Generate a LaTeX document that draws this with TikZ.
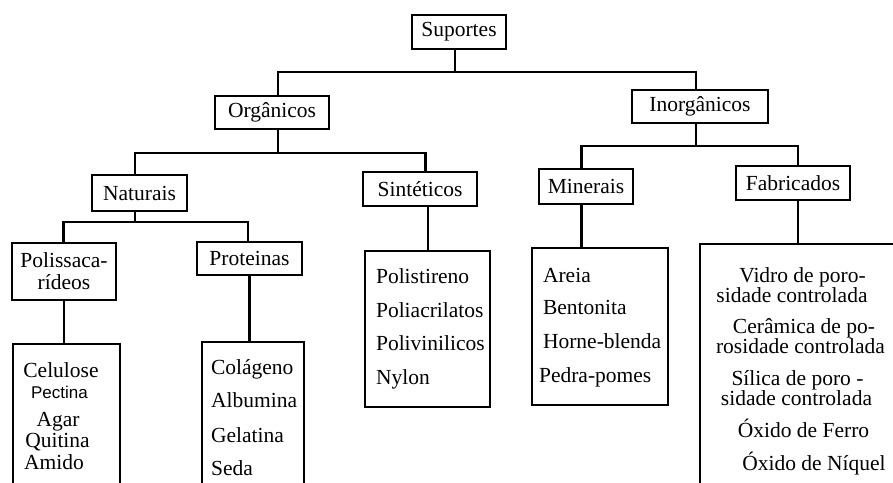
\documentclass[tikz,border=0pt]{standalone}
\usepackage{fontspec}
\setmainfont{Liberation Serif}
\newfontfamily\sansf{Liberation Sans}
\begin{document}
\begin{tikzpicture}[x=1pt,y=-1pt,line width=2.1pt,
  box/.style={draw,inner sep=0pt,align=center,font=\fontsize{21.5}{22}\selectfont},
  bigbox/.style={draw,inner sep=0pt,anchor=north west},
  txt/.style={inner sep=0pt,anchor=base,font=\fontsize{21.5}{22}\selectfont},
  txtl/.style={txt,anchor=base west}]
\useasboundingbox (0,0) rectangle (893,482);
\fill[white] (0,0) rectangle (893,482);
\clip (0,0) rectangle (893,482);
% labelled boxes
\node[box,minimum width=94,minimum height=34] (sup) at (459,32) {Suportes};
\node[box,minimum width=114,minimum height=33] (org) at (272,112.5) {Orgânicos};
\node[box,minimum width=136,minimum height=33] (inorg) at (700,106.5) {Inorgânicos};
\node[box,minimum width=95,minimum height=36] (nat) at (139.5,193) {Naturais};
\node[box,minimum width=114,minimum height=34] (sint) at (420,189) {Sintéticos};
\node[box,minimum width=94,minimum height=35] (min) at (586,186.5) {Minerais};
\node[box,minimum width=114,minimum height=34] (fab) at (793,183) {Fabricados};
\node[box,minimum width=104,minimum height=57] (pol) at (64,271.5) {Polissaca-\\rídeos};
\node[box,minimum width=105,minimum height=33] (prot) at (249.5,258.5) {Proteinas};
% list boxes
\node[bigbox,minimum width=107,minimum height=200] (polbox) at (12,343) {};
\node[bigbox,minimum width=102,minimum height=200] (protbox) at (201,341) {};
\node[bigbox,minimum width=125,minimum height=156] (sintbox) at (364,250) {};
\node[bigbox,minimum width=136,minimum height=157] (minbox) at (531,247) {};
\node[bigbox,minimum width=250,minimum height=300] (fabbox) at (699,243) {};
% connectors
\draw ([xshift=-4pt]sup.south) -- ++(0,22) coordinate (b1);
\draw ([xshift=6pt]org.north) |- (b1) -| ([xshift=-4pt]inorg.north);
\draw ([xshift=6pt]org.south) -- ++(0,23) coordinate (b2);
\draw ([xshift=-4.5pt]nat.north) |- (b2) -| ([xshift=5.5pt]sint.north);
\draw ([xshift=-4pt]inorg.south) -- ++(0,22) coordinate (b3);
\draw ([xshift=-4.5pt]min.north) |- (b3) -| ([xshift=5pt]fab.north);
\draw ([xshift=-4.5pt]nat.south) -- ++(0,10) coordinate (b4);
\draw ([xshift=-0.5pt]pol.north) |- (b4) -| ([xshift=-1.5pt]prot.north);
\draw (pol.south) -- (pol.south |- polbox.north);
\draw (prot.south) -- (prot.south |- protbox.north);
\draw (sintbox.north |- sint.south) -- (sintbox.north);
\draw ([xshift=-4.5pt]min.south) -- ([xshift=-4.5pt]min.south |- minbox.north);
\draw ([xshift=5pt]fab.south) -- ([xshift=5pt]fab.south |- fabbox.north);
% list texts
\node[txt] (t1) at (61,377) {Celulose};
\node[txt,font=\sansf\fontsize{17}{18}\selectfont] (t2) at (59.5,398) {Pectina};
\node[txt] (t3) at (58,426) {Agar};
\node[txt] (t4) at (57.5,447) {Quitina};
\node[txt] (t5) at (54,469) {Amido};
\node[txtl] (p1) at (210,374) {Colágeno};
\node[txtl] (p2) at (210,407) {Albumina};
\node[txtl] (p3) at (210,442) {Gelatina};
\node[txtl] (p4) at (210,475) {Seda};
\node[txtl] (s1) at (375,283) {Polistireno};
\node[txtl] (s2) at (375,317) {Poliacrilatos};
\node[txtl] (s3) at (375,350) {Polivinilicos};
\node[txtl] (s4) at (375,384) {Nylon};
\node[txtl] (m1) at (542,282) {Areia};
\node[txtl] (m2) at (542,314) {Bentonita};
\node[txtl] (m3) at (542,348) {Horne-blenda};
\node[txtl] (m4) at (538,382) {Pedra-pomes};
\node[txt] (f1) at (802.5,282) {Vidro de poro-};
\node[txt] (f2) at (792,302) {sidade controlada};
\node[txt] (f3) at (804,333) {Cerâmica de po-};
\node[txt] (f4) at (800.5,353) {rosidade controlada};
\node[txt] (f5) at (797.5,385) {Sílica de poro -};
\node[txt] (f6) at (796.5,405) {sidade controlada};
\node[txt] (f7) at (803.5,437) {Óxido de Ferro};
\node[txt] (f8) at (814,470) {Óxido de Níquel};
\end{tikzpicture}
\end{document}
